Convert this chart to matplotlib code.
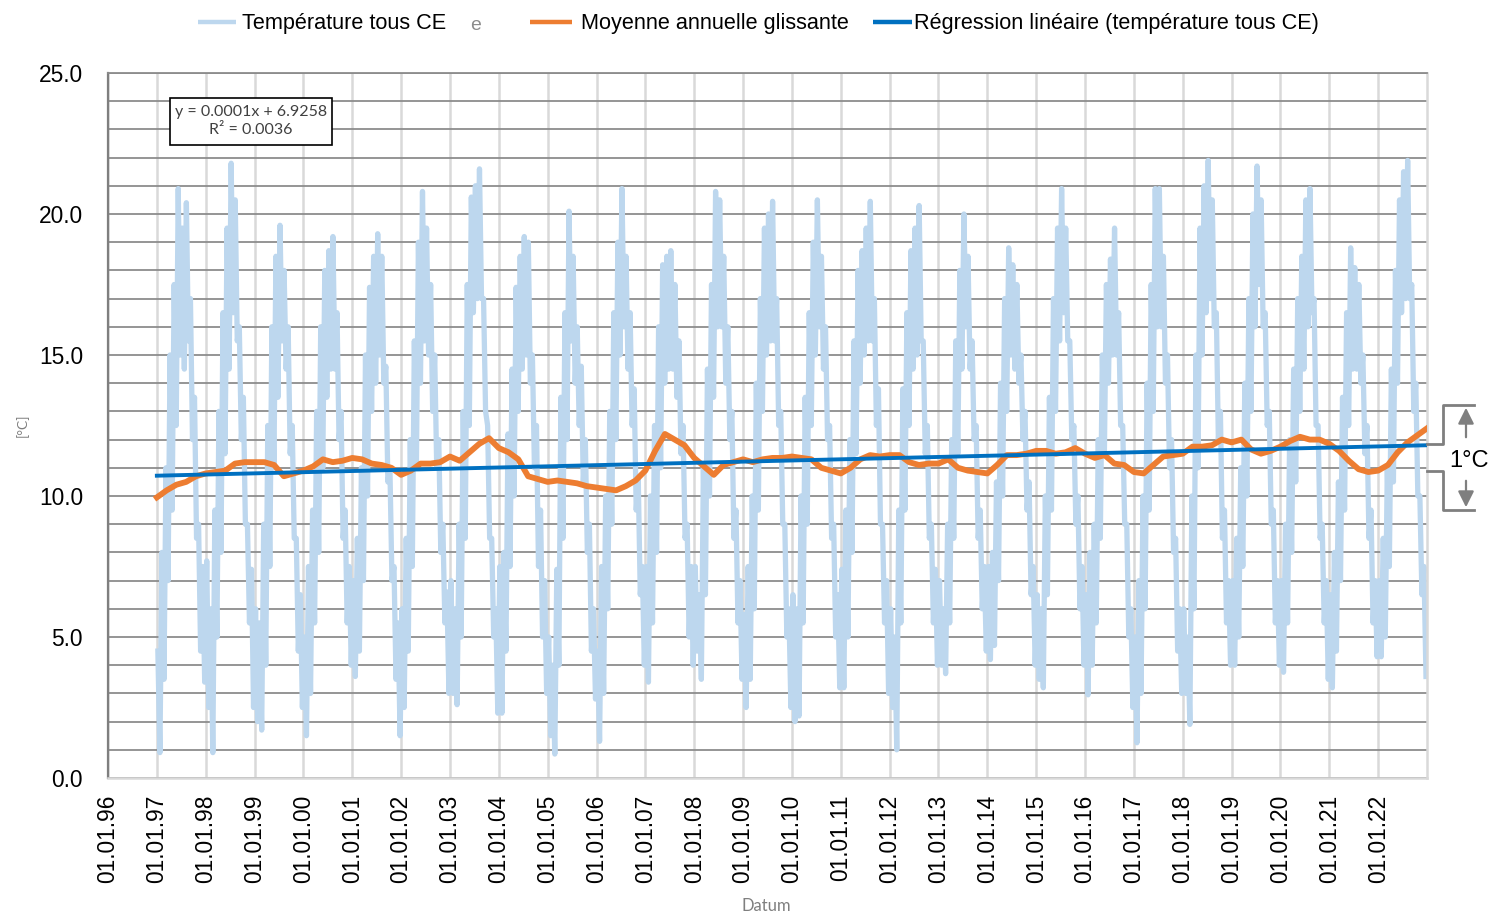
import numpy as np
import matplotlib
matplotlib.use("Agg")
import matplotlib.pyplot as plt
from matplotlib import font_manager
from matplotlib.lines import Line2D
from matplotlib.patches import Rectangle, FancyArrowPatch
from matplotlib.ticker import MultipleLocator, FixedLocator, FormatStrFormatter

# ---------------- data ----------------
years = list(range(1997, 2023))

# monthly upper envelope of the daily temperature (Jan..Dec per row)
temp_high = [
    4.5, 8.0, 11.0, 15.0, 17.5, 20.9, 19.5, 20.4, 17.0, 13.5, 9.0, 7.5,    # 1997
    7.7, 6.0, 9.5, 13.0, 16.5, 19.5, 21.8, 20.5, 16.0, 13.5, 9.0, 7.4,     # 1998
    6.0, 5.5, 9.0, 12.5, 16.0, 18.5, 19.6, 18.0, 16.0, 12.5, 8.5, 6.5,     # 1999
    5.0, 7.5, 9.5, 13.0, 16.0, 18.0, 18.7, 19.2, 16.5, 13.0, 9.5, 7.5,     # 2000
    7.0, 8.5, 11.0, 15.0, 17.4, 18.5, 19.3, 18.5, 14.6, 11.0, 7.5, 5.5,    # 2001
    6.0, 8.5, 12.0, 15.5, 19.0, 20.8, 19.5, 17.5, 15.0, 12.0, 9.0, 6.6,    # 2002
    7.0, 6.0, 9.0, 13.0, 17.5, 20.6, 21.0, 21.6, 17.0, 12.5, 8.5, 6.0,     # 2003
    7.5, 8.0, 12.2, 14.5, 17.4, 18.5, 19.2, 19.0, 15.0, 12.5, 9.5, 7.0,    # 2004
    5.0, 4.0, 7.4, 13.5, 16.5, 20.1, 18.5, 16.0, 14.6, 12.0, 9.0, 6.0,     # 2005
    4.5, 7.5, 10.0, 13.0, 16.5, 19.0, 20.9, 18.5, 16.5, 13.8, 10.6, 7.5,   # 2006
    7.5, 10.0, 12.5, 16.0, 18.2, 18.5, 18.7, 17.5, 15.5, 12.5, 9.0, 7.5,   # 2007
    7.5, 6.5, 11.0, 14.5, 17.5, 20.8, 20.5, 18.5, 16.0, 13.0, 9.5, 7.0,    # 2008
    5.8, 7.5, 10.0, 14.0, 17.0, 19.5, 20.0, 20.45, 17.0, 13.0, 9.0, 6.0,   # 2009
    6.5, 6.0, 10.0, 13.5, 16.5, 19.0, 20.5, 18.5, 16.0, 12.5, 9.0, 6.5,    # 2010
    7.4, 9.5, 12.0, 15.5, 18.0, 18.7, 19.5, 20.45, 17.0, 13.8, 9.0, 7.0,   # 2011
    6.0, 5.0, 9.5, 13.8, 16.5, 18.7, 19.5, 20.3, 15.5, 12.5, 9.0, 7.4,     # 2012
    7.0, 6.0, 9.0, 12.0, 15.5, 18.0, 20.0, 18.5, 15.5, 12.5, 9.5, 7.5,     # 2013
    7.5, 8.0, 10.5, 14.0, 17.0, 18.8, 18.2, 17.5, 15.0, 13.0, 10.5, 7.5,   # 2014
    6.5, 6.0, 10.0, 13.5, 17.0, 19.5, 20.9, 19.5, 15.5, 12.5, 10.0, 7.5,   # 2015
    6.5, 8.0, 9.0, 12.0, 15.0, 17.5, 18.4, 19.5, 16.5, 12.5, 9.0, 6.0,     # 2016
    5.0, 7.0, 10.0, 14.0, 17.5, 20.9, 20.9, 18.5, 15.0, 12.0, 8.5, 6.0,    # 2017
    6.0, 5.0, 10.0, 15.0, 19.5, 21.0, 21.9, 20.5, 16.5, 13.0, 9.5, 7.0,    # 2018
    7.0, 8.5, 11.0, 14.0, 17.0, 20.0, 21.7, 20.5, 16.5, 13.0, 9.5, 7.0,    # 2019
    7.0, 9.0, 12.0, 14.5, 17.0, 18.5, 20.5, 20.9, 17.0, 12.5, 9.0, 7.0,    # 2020
    6.5, 8.0, 10.5, 13.5, 16.5, 18.8, 18.1, 17.5, 15.0, 12.5, 9.5, 7.0,    # 2021
    7.0, 8.5, 11.0, 14.5, 18.0, 20.5, 21.5, 21.9, 17.5, 14.0, 10.0, 7.5,   # 2022
]

# monthly lower envelope of the daily temperature (Jan..Dec per row)
temp_low = [
    0.9, 3.5, 7.0, 9.5, 12.5, 15.0, 14.5, 15.5, 12.0, 8.5, 4.5, 3.4,       # 1997
    2.5, 0.9, 5.0, 8.0, 11.5, 14.5, 16.5, 15.5, 12.0, 9.0, 5.5, 2.5,       # 1998
    2.0, 1.7, 4.0, 7.5, 11.0, 13.5, 15.5, 14.5, 11.5, 8.5, 4.5, 2.5,       # 1999
    1.5, 3.0, 5.5, 8.0, 11.0, 13.5, 14.5, 14.5, 12.0, 8.5, 5.5, 4.0,       # 2000
    3.6, 4.5, 7.0, 10.0, 13.0, 14.0, 15.0, 14.0, 10.5, 7.0, 3.5, 1.5,      # 2001
    2.5, 4.5, 7.5, 11.0, 14.0, 15.5, 15.0, 13.0, 11.0, 8.0, 5.5, 3.0,      # 2002
    3.0, 2.6, 5.0, 8.5, 12.5, 16.5, 17.0, 17.0, 13.0, 8.5, 5.0, 2.3,       # 2003
    2.3, 4.5, 7.5, 10.0, 13.0, 14.5, 15.0, 14.0, 11.0, 7.5, 5.0, 3.0,      # 2004
    1.5, 0.85, 4.0, 8.5, 12.0, 15.5, 14.0, 12.5, 10.5, 8.0, 4.5, 2.8,      # 2005
    1.3, 3.0, 6.0, 9.0, 12.0, 15.0, 16.0, 14.5, 12.5, 9.5, 6.5, 4.0,       # 2006
    3.4, 5.5, 8.0, 11.0, 14.0, 14.5, 14.5, 13.5, 11.5, 8.5, 5.0, 4.0,      # 2007
    4.5, 3.5, 6.5, 10.0, 13.5, 16.0, 16.0, 14.0, 12.0, 8.5, 5.5, 3.5,      # 2008
    2.5, 3.5, 6.0, 9.5, 13.0, 15.0, 15.5, 15.5, 12.5, 9.0, 5.0, 2.5,       # 2009
    2.0, 2.2, 5.5, 9.0, 12.5, 15.0, 16.0, 14.5, 12.0, 8.5, 5.0, 3.2,       # 2010
    3.2, 5.0, 8.0, 11.5, 14.0, 15.0, 15.5, 15.5, 12.5, 9.0, 5.5, 3.0,      # 2011
    2.5, 1.0, 5.5, 9.5, 12.5, 14.5, 15.0, 15.5, 11.5, 8.5, 5.5, 4.0,       # 2012
    4.0, 3.7, 5.5, 8.5, 11.5, 14.5, 16.0, 14.5, 12.0, 8.5, 6.0, 4.5,       # 2013
    4.2, 4.7, 7.0, 10.0, 13.0, 15.0, 14.5, 14.0, 12.0, 9.5, 6.5, 4.0,      # 2014
    3.5, 3.2, 6.5, 9.5, 13.0, 15.5, 16.5, 15.5, 12.0, 9.0, 6.0, 4.0,       # 2015
    2.95, 4.0, 5.5, 8.5, 11.5, 14.0, 15.0, 15.0, 12.5, 9.0, 5.0, 2.5,      # 2016
    1.25, 3.0, 6.0, 9.5, 13.0, 16.0, 16.0, 14.0, 11.0, 8.0, 4.5, 3.0,      # 2017
    3.0, 1.9, 6.0, 11.0, 15.0, 16.5, 17.0, 16.0, 12.0, 8.5, 5.5, 4.0,      # 2018
    4.0, 5.0, 7.5, 10.0, 13.0, 16.0, 17.5, 16.0, 12.5, 9.0, 5.5, 4.0,      # 2019
    3.75, 5.5, 8.0, 10.5, 13.0, 14.5, 16.0, 16.5, 12.5, 8.5, 5.5, 3.5,     # 2020
    3.2, 4.5, 7.0, 9.5, 12.5, 14.5, 14.5, 14.0, 11.5, 8.5, 5.5, 4.3,       # 2021
    4.3, 5.0, 7.5, 10.5, 14.0, 16.5, 17.0, 17.0, 13.0, 10.0, 6.5, 3.6,     # 2022
]

# rolling annual mean, one value every 0.2 year from 1997.0
ma_start = 1997.0
ma_step = 0.2
moving_avg = [
    9.95, 10.2, 10.4, 10.5, 10.7, 10.8, 10.85, 10.9, 11.15, 11.2,
    11.2, 11.2, 11.1, 10.7, 10.8, 10.9, 11.05, 11.3, 11.2, 11.25,
    11.35, 11.3, 11.15, 11.1, 11.0, 10.75, 10.9, 11.15, 11.15, 11.2,
    11.4, 11.25, 11.55, 11.85, 12.05, 11.7, 11.55, 11.3, 10.7, 10.6,
    10.5, 10.55, 10.5, 10.45, 10.35, 10.3, 10.25, 10.2, 10.35, 10.55,
    10.9, 11.6, 12.2, 12.0, 11.8, 11.35, 11.05, 10.75, 11.1, 11.2,
    11.3, 11.2, 11.3, 11.35, 11.35, 11.4, 11.35, 11.3, 11.0, 10.9,
    10.8, 11.0, 11.3, 11.45, 11.4, 11.45, 11.45, 11.2, 11.1, 11.15,
    11.15, 11.3, 11.0, 10.9, 10.85, 10.8, 11.1, 11.45, 11.45, 11.5,
    11.6, 11.6, 11.5, 11.55, 11.7, 11.5, 11.35, 11.45, 11.15, 11.1,
    10.85, 10.8, 11.1, 11.4, 11.45, 11.5, 11.75, 11.75, 11.8, 12.0,
    11.9, 12.0, 11.65, 11.5, 11.6, 11.75, 11.95, 12.1, 12.0, 12.0,
    11.85, 11.6, 11.25, 10.95, 10.85, 10.9, 11.1, 11.55, 11.9, 12.15, 12.4,
]

# linear regression line end points
reg_years = [1997.0, 2023.0]
reg_values = [10.72, 11.80]

tick_years = list(range(1996, 2023))
tick_labels = ["01.01.%02d" % (y % 100) for y in tick_years]

legend_labels = ["Température tous CE", "Moyenne annuelle glissante",
                 "Régression linéaire (température tous CE)"]
equation_text = "y = 0.0001x + 6.9258\nR² = 0.0036"

# ---------------- style ----------------
C_TEMP = "#BDD7EE"
C_MA = "#ED7D31"
C_REG = "#0070C0"
C_HGRID = "#8C8C8C"
C_VGRID = "#D9D9D9"

names = {f.name for f in font_manager.fontManager.ttflist}
if "Liberation Sans Narrow" in names:
    NARROW = "Liberation Sans Narrow"
    k = 1.0
else:
    NARROW = "Liberation Sans"
    k = 0.82
REG = "Liberation Sans"
SMALL = "Lato" if "Lato" in names else "DejaVu Sans"

W, H = 1503, 916
fig = plt.figure(figsize=(W / 100, H / 100), dpi=100)


def fx(x):
    return x / W


def fy(y):
    return 1 - y / H


ax = fig.add_axes([fx(108), fy(778), fx(1427) - fx(108), fy(73) - fy(778)])

# blue daily series built from monthly high/low envelope
t_blue, v_blue = [], []
for i, y in enumerate(years):
    for m in range(12):
        t_blue += [y + (m + 0.25) / 12, y + (m + 0.75) / 12]
        v_blue += [temp_high[12 * i + m], temp_low[12 * i + m]]

ma_years = ma_start + ma_step * np.arange(len(moving_avg))

l1, = ax.plot(t_blue, v_blue, color=C_TEMP, lw=3.8, zorder=2)
l2, = ax.plot(ma_years, moving_avg, color=C_MA, lw=4.2, zorder=3)
l3, = ax.plot(reg_years, reg_values, color=C_REG, lw=2.8, zorder=4)

ax.set_xlim(1996, 2023)
ax.set_ylim(0, 25)
ax.xaxis.set_major_locator(FixedLocator(tick_years))
ax.set_xticklabels(tick_labels)
ax.yaxis.set_major_locator(MultipleLocator(5))
ax.yaxis.set_minor_locator(MultipleLocator(1))
ax.yaxis.set_major_formatter(FormatStrFormatter("%.1f"))
ax.set_axisbelow(True)
ax.grid(axis="y", which="both", color=C_HGRID, lw=1.3)
ax.grid(axis="x", which="major", color=C_VGRID, lw=1.8)

ax.tick_params(axis="both", which="both", length=0)
ax.tick_params(axis="y", labelsize=20 * k, pad=18)
ax.tick_params(axis="x", labelsize=20 * k, pad=12, labelrotation=90)
for lab in ax.get_xticklabels() + ax.get_yticklabels():
    lab.set_fontfamily(NARROW)

ax.spines["left"].set_color("#7F7F7F")
ax.spines["left"].set_linewidth(1.6)
ax.spines["top"].set_color(C_HGRID)
ax.spines["top"].set_linewidth(1.3)
ax.spines["bottom"].set_color(C_VGRID)
ax.spines["bottom"].set_linewidth(1.8)
ax.spines["right"].set_color(C_VGRID)
ax.spines["right"].set_linewidth(1.8)

# axis titles
fig.text(fx(766), fy(906), "Datum", color="#7F7F7F", fontsize=12,
         family=SMALL, ha="center", va="center")
fig.text(fx(22), fy(425), "[°C]", color="#7F7F7F", fontsize=10,
         family=SMALL, ha="center", va="center", rotation=90)

# equation box
fig.patches.append(Rectangle((fx(170), fy(145)), fx(332) - fx(170),
                             fy(98) - fy(145), transform=fig.transFigure,
                             facecolor="white", edgecolor="black", lw=1.2,
                             zorder=5))
fig.text(fx(251), fy(121), equation_text, color="#404040", fontsize=11.5,
         family=SMALL, ha="center", va="center", linespacing=1.35, zorder=6)

# legend (manual, at top)
legend_items = [(l1, 198, 236, 242), (l2, 530, 572, 581), (l3, 873, 912, 914)]
for (line, x0, x1, xt), lab in zip(legend_items, legend_labels):
    fig.add_artist(Line2D([fx(x0), fx(x1)], [fy(22), fy(22)],
                          transform=fig.transFigure, color=line.get_color(),
                          lw=3.2, solid_capstyle="butt"))
    fig.text(fx(xt), fy(23), lab, fontsize=19 * k, family=NARROW,
             ha="left", va="center")
fig.text(fx(470), fy(25), "e", fontsize=17 * k, family=NARROW,
         color="#8C8C8C", ha="left", va="center")

# 1 °C bracket on the right
GRAY = "#7F7F7F"
segs = [
    [(1427, 444), (1443, 444), (1443, 405), (1474, 405)],
    [(1427, 471), (1443, 471), (1443, 510), (1474, 510)],
]
for s in segs:
    fig.add_artist(Line2D([fx(p[0]) for p in s], [fy(p[1]) for p in s],
                          transform=fig.transFigure, color=GRAY, lw=2.0))
for (ya, yb) in [(440, 405), (478, 510)]:
    fig.patches.append(FancyArrowPatch((fx(1466), fy(ya)), (fx(1466), fy(yb)),
                                       transform=fig.transFigure,
                                       arrowstyle="-|>,head_length=6,head_width=3",
                                       color=GRAY, lw=1.6, mutation_scale=1.6))
fig.text(fx(1469), fy(461), "1°C", fontsize=17, family=REG,
         ha="center", va="center")

fig.savefig("out.png", dpi=100)
